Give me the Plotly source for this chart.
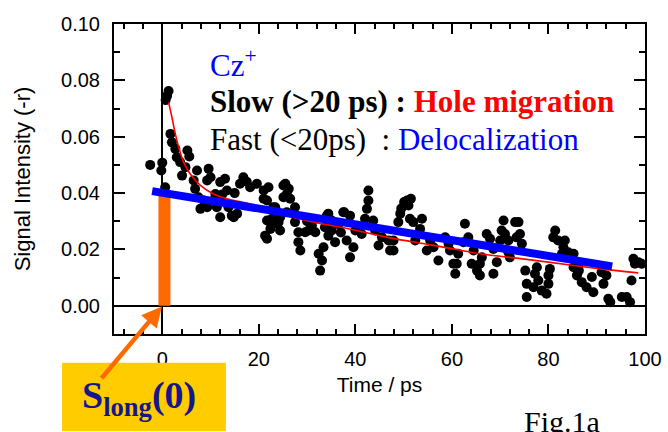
import plotly.graph_objects as go

TIME_PS = [
    -2.5, 0.0, -0.2, 0.6, 1.3, 0.7, 1.0, 1.7, 2.0, 2.7, 3.0, 3.7, 5.2, 5.6, 4.8, 4.1, 6.5, 7.2, 6.8, 7.5,
    7.9, 9.6, 9.3, 10.0, 11.0, 12.0, 13.0, 13.4, 11.3, 12.0, 13.7, 14.4, 15.5, 14.8, 16.8, 17.5, 18.2, 16.1,
    19.6, 21.0, 21.0, 21.7, 21.3, 8.6, 9.3, 10.6, 12.4, 15.0, 23.0, 24.4, 23.0, 25.1, 25.8, 27.5,
    22.0, 21.7, 22.7, 22.4, 21.7, 24.1, 24.4, 25.5, 26.2, 25.1, 26.5, 23.4, 25.8, 27.5, 28.2, 28.2,
    28.6, 29.6, 30.3, 31.7, 32.4, 33.1, 32.7, 33.4, 34.1, 34.4, 35.1, 35.8, 33.7, 37.5, 38.2, 39.6,
    38.9, 40.0, 41.3, 42.7, 42.7, 42.4, 42.0, 43.7, 44.1, 44.8, 45.5, 47.2, 46.9, 38.9, 35.1,
    30.0, 31.0, 36.5, 37.0, 34.4, 37.7,
    50.7, 51.0, 49.3, 48.9, 51.3, 52.0, 53.8, 53.4, 52.4, 47.9, 47.9, 54.8, 55.5, 56.2, 57.2, 58.6,
    59.3, 59.6, 60.3, 61.0, 60.7, 61.3, 62.4, 62.7, 63.4, 64.5, 64.1, 65.8, 65.8, 65.2, 66.2, 67.2,
    67.9, 68.6, 68.6, 69.3, 70.7, 70.3, 70.0, 71.0, 71.7, 73.1, 73.4, 71.7, 72.0, 51.5, 50.1, 49.5,
    73.8, 74.1, 74.5, 75.2, 75.5, 75.5, 76.9, 77.2, 77.6, 77.9, 78.6, 79.6, 80.0, 80.0, 80.3, 81.4,
    81.0, 82.0, 83.4, 83.1, 84.1, 82.8, 85.2, 85.2, 85.9, 86.9, 87.9, 89.0, 89.3, 86.3, 91.0, 91.4,
    92.4, 92.8, 95.2, 96.2, 96.9, 97.2, 97.6, 98.6, 97.9, 99.3, 92.0, 86.2,
]
SIGNAL = [
    0.0500, 0.0508, 0.0480, 0.0421, 0.0762, 0.0730, 0.0745, 0.0610, 0.0580, 0.0557, 0.0527, 0.0510, 0.0551, 0.0530, 0.0492, 0.0462, 0.0445, 0.0480, 0.0415, 0.0385,
    0.0344, 0.0486, 0.0445, 0.0456, 0.0397, 0.0439, 0.0451, 0.0409, 0.0350, 0.0314, 0.0350, 0.0320, 0.0327, 0.0314, 0.0456, 0.0440, 0.0421, 0.0433,
    0.0433, 0.0409, 0.0380, 0.0303, 0.0249, 0.0374, 0.0350, 0.0374, 0.0395, 0.0400, 0.0350, 0.0314, 0.0290, 0.0427, 0.0397, 0.0350,
    0.0421, 0.0374, 0.0309, 0.0273, 0.0238, 0.0297, 0.0267, 0.0433, 0.0415, 0.0385, 0.0380, 0.0350, 0.0332, 0.0297, 0.0261, 0.0226,
    0.0196, 0.0261, 0.0267, 0.0261, 0.0185, 0.0161, 0.0125, 0.0208, 0.0320, 0.0249, 0.0267, 0.0226, 0.0279, 0.0332, 0.0232, 0.0208,
    0.0172, 0.0267, 0.0255, 0.0409, 0.0374, 0.0344, 0.0309, 0.0303, 0.0267, 0.0214, 0.0243, 0.0196, 0.0232, 0.0320, 0.0303,
    0.0300, 0.0285, 0.0290, 0.0260, 0.0327, 0.0332,
    0.0374, 0.0356, 0.0327, 0.0297, 0.0309, 0.0297, 0.0309, 0.0273, 0.0232, 0.0232, 0.0196, 0.0196, 0.0232, 0.0208, 0.0161, 0.0243,
    0.0220, 0.0196, 0.0149, 0.0149, 0.0114, 0.0185, 0.0226, 0.0291, 0.0243, 0.0196, 0.0149, 0.0149, 0.0108, 0.0125, 0.0172, 0.0255,
    0.0238, 0.0114, 0.0202, 0.0155, 0.0303, 0.0267, 0.0232, 0.0255, 0.0232, 0.0297, 0.0243, 0.0190, 0.0172, 0.0380, 0.0368, 0.0345,
    0.0297, 0.0255, 0.0220, 0.0125, 0.0078, 0.0031, 0.0066, 0.0114, 0.0137, 0.0090, 0.0054, 0.0043, 0.0078, 0.0108, 0.0131, 0.0267,
    0.0243, 0.0232, 0.0232, 0.0208, 0.0190, 0.0185, 0.0185, 0.0137, 0.0108, 0.0084, 0.0066, 0.0102, 0.0048, 0.0125, 0.0119, 0.0078,
    0.0025, 0.0013, 0.0031, 0.0031, 0.0013, 0.0090, 0.0167, 0.0155, 0.0149, 0.0149, 0.0108, 0.0143,
]

# fitted decay curve (red)
FIT_T = [1.3, 2.0, 2.7, 3.4, 4.4, 5.8, 7.9, 10.6, 13.4, 16.0, 18.0, 20.0, 25.0, 31.3, 35.6, 40.0,
         47.2, 55.0, 60.0, 65.8, 73.0, 80.0, 90.0, 98.6]
FIT_S = [0.0723, 0.0669, 0.0610, 0.0563, 0.0510, 0.0468, 0.0427, 0.0397, 0.0380, 0.0370, 0.0362, 0.0348,
         0.0322, 0.0297, 0.0283, 0.0268, 0.0241, 0.0218, 0.0203, 0.0185, 0.0170, 0.0155, 0.0133, 0.0117]

# slow component (blue band)
SLOW_T = [-2.1, 93.2]
SLOW_S = [0.0407, 0.0140]

# S_long(0) marker (orange bar)
S0_T = [0.45, 0.45]
S0_S = [0.0, 0.0406]

SANS = "Liberation Sans, Arial, sans-serif"
SERIF = "Liberation Serif, Times New Roman, serif"
ORANGE = "#FF6A00"

fig = go.Figure()

fig.add_trace(go.Scatter(
    x=TIME_PS, y=SIGNAL, mode="markers",
    marker=dict(color="black", size=10, line=dict(width=0)),
    showlegend=False, hoverinfo="skip"))

fig.add_trace(go.Scatter(
    x=FIT_T, y=FIT_S, mode="lines", line=dict(color="#FF0000", width=1.6, shape="spline"),
    showlegend=False, hoverinfo="skip"))

fig.add_trace(go.Scatter(
    x=S0_T, y=S0_S, mode="lines", line=dict(color=ORANGE, width=12),
    showlegend=False, hoverinfo="skip"))

fig.add_trace(go.Scatter(
    x=SLOW_T, y=SLOW_S, mode="lines", line=dict(color="#0000FF", width=8),
    showlegend=False, hoverinfo="skip"))

axis_common = dict(
    showline=True, linecolor="black", linewidth=2, mirror="ticks",
    ticks="inside", tickcolor="black", tickwidth=1.5,
    showgrid=False, zeroline=True, zerolinecolor="black", zerolinewidth=1.5,
    tickfont=dict(family=SANS, size=20, color="black"),
)

fig.update_xaxes(
    **axis_common,
    range=[-10, 100], tick0=0, dtick=20, ticklen=10,
    minor=dict(tick0=0, dtick=4, ticklen=5, ticks="inside", tickwidth=1.5, tickcolor="black"),
    title=dict(text="Time / ps", font=dict(family=SANS, size=21, color="black"), standoff=8),
    ticklabelstandoff=6,
)
fig.update_yaxes(
    **axis_common,
    range=[-0.01, 0.10], tick0=0, dtick=0.02, tickformat=".2f", ticklen=11,
    minor=dict(tick0=0, dtick=0.01, ticklen=6, ticks="inside", tickwidth=1.5, tickcolor="black"),
    title=dict(text="Signal Intensity (-r)", font=dict(family=SANS, size=22, color="black"), standoff=24),
    ticklabelstandoff=8,
)

# plot area: x 114..645.5 px, y 24..334 px
L, R, T, B = 114, 668 - 645.5, 24, 432 - 334
W = 668 - L - R
H = 432 - T - B


def px(xp):
    return (xp - L) / W


def py(yp):
    return (432 - B - yp) / H


# yellow label box
fig.add_shape(type="rect", xref="paper", yref="paper",
              x0=px(62), x1=px(226), y0=py(431), y1=py(362.7),
              fillcolor="#FFCC00", line=dict(width=0), layer="above")

annotations = [
    dict(text="Cz<sup>+</sup>", x=px(208), y=py(63), font=dict(family=SERIF, size=31, color="#0000FF")),
    dict(text="<b>Slow (&gt;20 ps) : <span style='color:#FF0000'>Hole migration</span></b>",
         x=px(208), y=py(102), font=dict(family=SERIF, size=31, color="black")),
    dict(text="Fast (&lt;20ps)\u00a0 : <span style='color:#0000FF'>Delocalization</span>",
         x=px(208), y=py(139), font=dict(family=SERIF, size=31, color="black")),
    dict(text="<b>S<sub>long</sub>(0)</b>", x=px(80), y=py(398),
         font=dict(family=SERIF, size=38, color="#16168C")),
    dict(text="Fig.1a", x=px(522), y=py(421), font=dict(family=SERIF, size=30, color="black")),
]
for a in annotations:
    a.update(xref="paper", yref="paper", xanchor="left", yanchor="middle", showarrow=False)

# orange arrow pointing to S_long(0)
annotations.append(dict(
    x=-0.06, y=-0.0002, xref="x", yref="y", ax=100 - 161.7, ay=379.3 - 306,
    axref="pixel", ayref="pixel", text="", showarrow=True,
    arrowhead=2, arrowsize=0.9, arrowwidth=4.5, arrowcolor=ORANGE))

fig.update_layout(
    width=668, height=432,
    margin=dict(l=L, r=R, t=T, b=B, autoexpand=False),
    paper_bgcolor="white", plot_bgcolor="white",
    annotations=annotations,
    showlegend=False,
)

fig.write_html("out.html", config={"displayModeBar": False},
               post_script="document.body.style.margin='0px';")
